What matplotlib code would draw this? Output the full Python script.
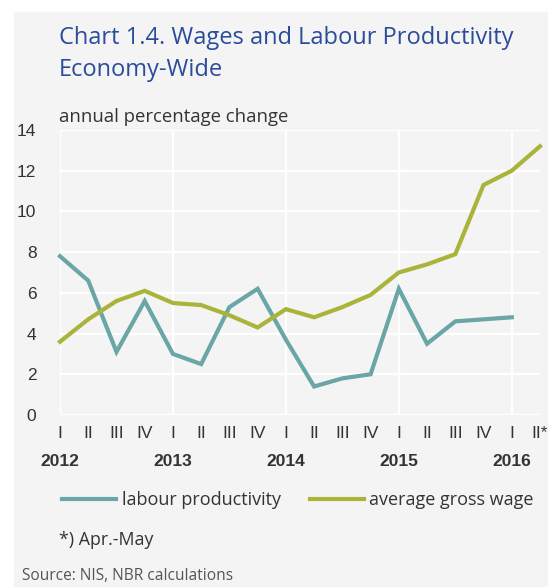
import matplotlib
matplotlib.use("Agg")
import matplotlib.pyplot as plt
from matplotlib.patches import Rectangle
from matplotlib.transforms import blended_transform_factory

quarters = ["I", "II", "III", "IV"] * 4 + ["I", "II*"]
years = ["2012", "2013", "2014", "2015", "2016"]
labour_productivity = [7.8, 6.6, 3.1, 5.6, 3.0, 2.5, 5.3, 6.2, 3.7, 1.4, 1.8, 2.0,
                       6.2, 3.5, 4.6, 4.7, 4.8]
average_gross_wage = [3.6, 4.7, 5.6, 6.1, 5.5, 5.4, 4.9, 4.3, 5.2, 4.8, 5.3, 5.9,
                      7.0, 7.4, 7.9, 11.3, 12.0, 13.2]
yticks = [0, 2, 4, 6, 8, 10, 12, 14]

BG = "#f4f4f4"
TEAL = "#6aa6a6"
OLIVE = "#aab43a"
TITLE = "#2b4c9b"
TXT = "#333333"
COND = ["Liberation Sans", "DejaVu Sans"]
MAIN = ["Open Sans", "DejaVu Sans"]

W, H = 548, 587
fig = plt.figure(figsize=(W / 100, H / 100), dpi=100)
fig.patch.set_facecolor("white")
fig.patches.append(Rectangle((14 / W, 0), 1 - 14 / W, 1 - 12 / H,
                             transform=fig.transFigure, color=BG, zorder=-10))

ax = fig.add_axes([60 / W, 1 - 415 / H, 480 / W, 285 / H])
ax.set_facecolor(BG)
for s in ax.spines.values():
    s.set_visible(False)

x = list(range(len(quarters)))
ax.set_xlim(0, len(quarters) - 1)
ax.set_ylim(0, 14)
ax.set_yticks(yticks)
ax.set_yticklabels([str(v) for v in yticks], fontfamily=COND, fontsize=12.5, color=TXT)
ax.yaxis.grid(True, color="white", lw=1.6)
for i in range(0, len(quarters), 4):
    ax.axvline(i, color="white", lw=1.6, zorder=1)
ax.set_axisbelow(True)
ax.tick_params(length=0, pad=17)
ax.tick_params(axis="x", pad=8)
ax.set_xticks(x)
ax.set_xticklabels(quarters, fontfamily=COND, fontsize=12.5, color=TXT)

ax.plot(range(len(labour_productivity)), labour_productivity, color=TEAL, lw=3,
        solid_joinstyle="miter", label="labour productivity", zorder=3, clip_on=False)
ax.plot(range(len(average_gross_wage)), average_gross_wage, color=OLIVE, lw=3,
        solid_joinstyle="miter", label="average gross wage", zorder=3, clip_on=False)

tr = blended_transform_factory(ax.transData, fig.transFigure)
for k, yr in enumerate(years):
    ax.text(k * 4, 1 - 462 / H, yr, transform=tr, ha="center", va="center",
            fontfamily=COND, fontsize=12.5, fontweight="bold", color=TXT)

fig.text(59 / W, 1 - 38 / H, "Chart 1.4. Wages and Labour Productivity",
         fontfamily=MAIN, fontsize=17, color=TITLE, va="center", ha="left")
fig.text(59 / W, 1 - 70 / H, "Economy-Wide",
         fontfamily=MAIN, fontsize=17, color=TITLE, va="center", ha="left")
fig.text(59 / W, 1 - 117 / H, "annual percentage change",
         fontfamily=MAIN, fontsize=13.3, color=TXT, va="center", ha="left")

leg = fig.legend(loc="center left", bbox_to_anchor=(46 / W, 1 - 500 / H), ncol=2,
                 frameon=False, prop={"family": MAIN, "size": 13},
                 handlelength=3.0, handletextpad=0.3, columnspacing=1.6)
for t in leg.get_texts():
    t.set_color(TXT)

fig.text(59 / W, 1 - 540 / H, "*) Apr.-May",
         fontfamily=MAIN, fontsize=12.8, color=TXT, va="center", ha="left")
fig.text(22 / W, 1 - 576 / H, "Source: NIS, NBR calculations",
         fontfamily=MAIN, fontsize=11.2, color="#555555", va="center", ha="left")

fig.savefig("out.png", dpi=100, facecolor="white")
